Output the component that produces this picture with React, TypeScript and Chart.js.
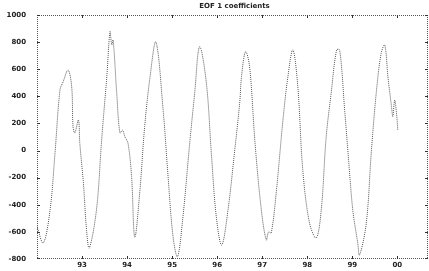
import React, { useEffect, useRef } from "react";
import { Chart, registerables } from "chart.js";

Chart.register(...registerables);

const titleText = "EOF 1 coefficients";

const times = [
  92.0, 92.14, 92.29, 92.4, 92.51, 92.58, 92.69, 92.77, 92.8, 92.84, 92.92, 92.95,
  93.03, 93.1, 93.16, 93.32, 93.43, 93.47, 93.55, 93.62, 93.66, 93.69, 93.77, 93.84,
  93.9, 93.95, 94.02, 94.1, 94.17, 94.28, 94.39, 94.51, 94.64, 94.8, 94.91, 95.02,
  95.12, 95.24, 95.39, 95.5, 95.61, 95.76, 95.87, 95.98, 96.1, 96.24, 96.39, 96.5,
  96.54, 96.63, 96.72, 96.84, 96.98, 97.09, 97.14, 97.2, 97.31, 97.46, 97.57, 97.68,
  97.79, 97.9, 98.05, 98.2, 98.31, 98.42, 98.53, 98.65, 98.72, 98.83, 98.9, 99.01,
  99.12, 99.16, 99.31, 99.42, 99.53, 99.64, 99.72, 99.79, 99.87, 99.9, 99.94, 99.98,
  100.01,
];

const values = [
  -560, -682, -438, -18, 447, 508, 594, 471, 176, 130, 225, 55,
  -239, -586, -719, -438, 55, 225, 545, 877, 780, 816, 422, 130,
  150, 102, 55, -193, -640, -313, 176, 545, 800, 299, -193, -635,
  -783, -488, 55, 422, 766, 498, -18, -488, -697, -438, 4, 351,
  545, 729, 619, 55, -438, -660, -600, -608, -313, 225, 545, 742,
  471, -143, -535, -645, -438, 102, 422, 742, 742, 299, 4, -438,
  -682, -771, -535, -18, 422, 717, 779, 545, 324, 250, 373, 277,
  152,
];

const yTicks = [1000, 800, 600, 400, 200, 0, -200, -400, -600, -800];
const xTickYears = [93, 94, 95, 96, 97, 98, 99, 100];
const xTickLabels = ["93", "94", "95", "96", "97", "98", "99", "00"];

const X_MIN = 92.0;
const X_MAX = 100.68;
const Y_MIN = -800;
const Y_MAX = 1000;

const framePlugin = {
  id: "frameBox",
  afterDraw(chart: any) {
    const ctx: CanvasRenderingContext2D = chart.ctx;
    const area = chart.chartArea;
    const left = Math.round(area.left);
    const right = Math.round(area.right) - 1;
    const top = Math.round(area.top);
    const bottom = Math.round(area.bottom) - 1;
    const xs = chart.scales.x;
    const ys = chart.scales.y;
    ctx.save();
    ctx.fillStyle = "#555555";
    for (let x = left; x <= right; x += 2) {
      ctx.fillRect(x, top, 1, 1);
      ctx.fillRect(x, bottom, 1, 1);
    }
    for (let y = top; y <= bottom; y += 2) {
      ctx.fillRect(left, y, 1, 1);
      ctx.fillRect(right, y, 1, 1);
    }
    ctx.fillStyle = "#333333";
    for (const v of yTicks) {
      const y = Math.round(ys.getPixelForValue(v));
      ctx.fillRect(left, Math.min(Math.max(y, top), bottom), 3, 1);
      ctx.fillRect(right - 2, Math.min(Math.max(y, top), bottom), 3, 1);
    }
    for (const v of xTickYears) {
      const x = Math.round(xs.getPixelForValue(v));
      ctx.fillRect(x, bottom - 2, 1, 3);
      ctx.fillRect(x, top, 1, 3);
    }
    ctx.fillStyle = "#222";
    ctx.font = "bold 7px 'DejaVu Sans'";
    ctx.textAlign = "center";
    ctx.textBaseline = "middle";
    ctx.fillText(titleText, (area.left + area.right) / 2 + 2, 6);
    ctx.restore();
  },
};

export default function App() {
  const ref = useRef<HTMLCanvasElement | null>(null);
  useEffect(() => {
    document.body.style.margin = "0";
    const canvas = ref.current;
    if (!canvas) return;
    const chart = new Chart(canvas, {
      type: "line",
      data: {
        datasets: [
          {
            data: times.map((t, i) => ({ x: t, y: values[i] })),
            borderColor: "#555",
            borderWidth: 1,
            borderDash: [1, 1],
            pointRadius: 0,
            tension: 0.35,
            fill: false,
          },
        ],
      },
      options: {
        animation: false,
        responsive: false,
        maintainAspectRatio: false,
        layout: { padding: { top: 15, right: 1, left: 0, bottom: 0 } },
        plugins: { legend: { display: false }, tooltip: { enabled: false }, title: { display: false } },
        scales: {
          x: {
            type: "linear",
            min: X_MIN,
            max: X_MAX,
            grid: { display: false },
            border: { display: false },
            afterBuildTicks: (scale: any) => {
              scale.ticks = xTickYears.map((v) => ({ value: v }));
            },
            afterFit: (scale: any) => {
              scale.height = 12;
            },
            ticks: {
              autoSkip: false,
              maxRotation: 0,
              padding: -6,
              color: "#222",
              font: { family: "DejaVu Sans", size: 7, weight: "bold" },
              callback: (v: any) => {
                const i = xTickYears.indexOf(Number(v));
                return i >= 0 ? xTickLabels[i] : "";
              },
            },
          },
          y: {
            type: "linear",
            min: Y_MIN,
            max: Y_MAX,
            grid: { display: false },
            border: { display: false },
            afterBuildTicks: (scale: any) => {
              scale.ticks = yTicks.map((v) => ({ value: v }));
            },
            afterFit: (scale: any) => {
              scale.width = 37;
            },
            ticks: {
              autoSkip: false,
              padding: 3,
              color: "#222",
              font: { family: "DejaVu Sans", size: 7, weight: "bold" },
              callback: (v: any) => String(v),
            },
          },
        },
      },
      plugins: [framePlugin],
    });
    return () => chart.destroy();
  }, []);
  return (
    <div style={{ position: "absolute", left: 0, top: 0, width: 429, height: 271, background: "#fff" }}>
      <canvas ref={ref} width={429} height={271} style={{ width: 429, height: 271 }} />
    </div>
  );
}
